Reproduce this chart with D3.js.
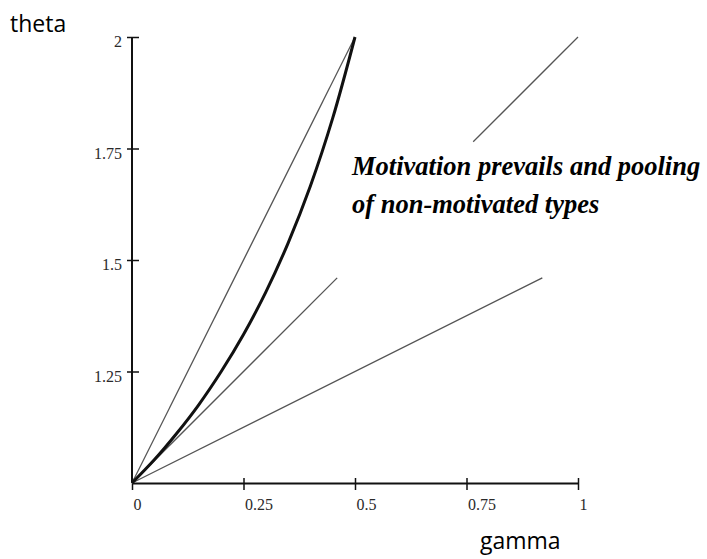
<!DOCTYPE html>
<html>

<head>
    <meta charset='utf-8'>
</head>
<style>
    body { margin: 0; background: #fff; }
    .tick text { font-family: 'Liberation Serif', serif; font-size: 16px; fill: #2a2a2a; }
</style>

<body>
    <svg width="707" height="559"></svg>
    <script src="https://d3js.org/d3.v7.min.js"></script>
    <script>
        // ticks
        var xTicks = [0, 0.25, 0.5, 0.75, 1];
        var xTickLabels = ["0", "0.25", "0.5", "0.75", "1"];
        var yTicks = [1.25, 1.5, 1.75, 2];
        var yTickLabels = ["1.25", "1.5", "1.75", "2"];

        // thick curve (gamma, theta)
        var curveGamma = [0, 0.05, 0.1, 0.15, 0.2, 0.25, 0.3, 0.35, 0.4, 0.45, 0.5];
        var curveTheta = [1, 1.052, 1.111, 1.176, 1.25, 1.333, 1.428, 1.538, 1.666, 1.818, 2];

        // thin straight segments, [gamma, theta] end points
        var steepLine = [[0, 1], [0.5, 2]];
        var diagLow = [[0, 1], [0.46, 1.46]];
        var diagHigh = [[0.765, 1.765], [1, 2]];
        var flatLine = [[0, 1], [0.92, 1.46]];

        var noteLines = ["Motivation prevails and pooling", "of non-motivated types"];

        var svg = d3.select('svg');

        var x = d3.scaleLinear().domain([0, 1]).range([132, 578]);
        var y = d3.scaleLinear().domain([1, 2]).range([483, 37]);

        // x axis
        var xAxis = svg.append('g')
            .attr('transform', 'translate(0,' + y(1) + ')')
            .call(d3.axisBottom(x).tickValues(xTicks).tickSizeOuter(0)
                .tickFormat(function(d, i) { return xTickLabels[i]; }));
        xAxis.select('.domain').attr('stroke', '#111').attr('stroke-width', 2);
        xAxis.selectAll('.tick line').attr('y1', -5).attr('y2', 7).attr('stroke', '#111').attr('stroke-width', 1.5);
        xAxis.selectAll('.tick text').attr('text-anchor', 'start').attr('dx', 1).attr('y', 27).attr('dy', 0);

        // y axis
        var yAxis = svg.append('g')
            .attr('transform', 'translate(' + x(0) + ',0)')
            .call(d3.axisLeft(y).tickValues(yTicks).tickSizeOuter(0)
                .tickFormat(function(d, i) { return yTickLabels[i]; }));
        yAxis.select('.domain').attr('stroke', '#111').attr('stroke-width', 2)
            .attr('d', 'M0,' + y(1) + 'V' + y(2));
        yAxis.selectAll('.tick line').attr('x1', -5).attr('x2', 7).attr('stroke', '#111').attr('stroke-width', 1.5);
        yAxis.selectAll('.tick text').attr('x', -10).attr('dy', '0.6em');

        var line = d3.line()
            .x(function(d) { return x(d[0]); })
            .y(function(d) { return y(d[1]); });

        // thin lines
        svg.append('g')
            .selectAll('path')
            .data([steepLine, diagLow, diagHigh, flatLine])
            .enter().append('path')
            .attr('d', line)
            .attr('fill', 'none')
            .attr('stroke', '#555')
            .attr('stroke-width', 1.3);

        // thick curve
        var curvePts = curveGamma.map(function(g, i) { return [g, curveTheta[i]]; });
        svg.append('path')
            .attr('d', d3.line()
                .x(function(d) { return x(d[0]); })
                .y(function(d) { return y(d[1]); })
                .curve(d3.curveCatmullRom)(curvePts))
            .attr('fill', 'none')
            .attr('stroke', '#111')
            .attr('stroke-width', 3);

        // annotation
        svg.append('text')
            .attr('x', 352)
            .attr('y', 175)
            .style('font-family', "'Liberation Serif', serif")
            .style('font-weight', 'bold')
            .style('font-style', 'italic')
            .style('font-size', '26.5px')
            .selectAll('tspan')
            .data(noteLines)
            .enter().append('tspan')
            .attr('x', 352)
            .attr('dy', function(d, i) { return i == 0 ? 0 : 38; })
            .text(function(d) { return d; });

        // axis titles
        svg.append('text')
            .attr('x', 10).attr('y', 32)
            .style('font-family', "'Open Sans', sans-serif")
            .style('font-size', '23px')
            .text('theta');
        svg.append('text')
            .attr('x', 480).attr('y', 549)
            .style('font-family', "'Open Sans', sans-serif")
            .style('font-size', '23px')
            .text('gamma');
    </script>
</body>

</html>
